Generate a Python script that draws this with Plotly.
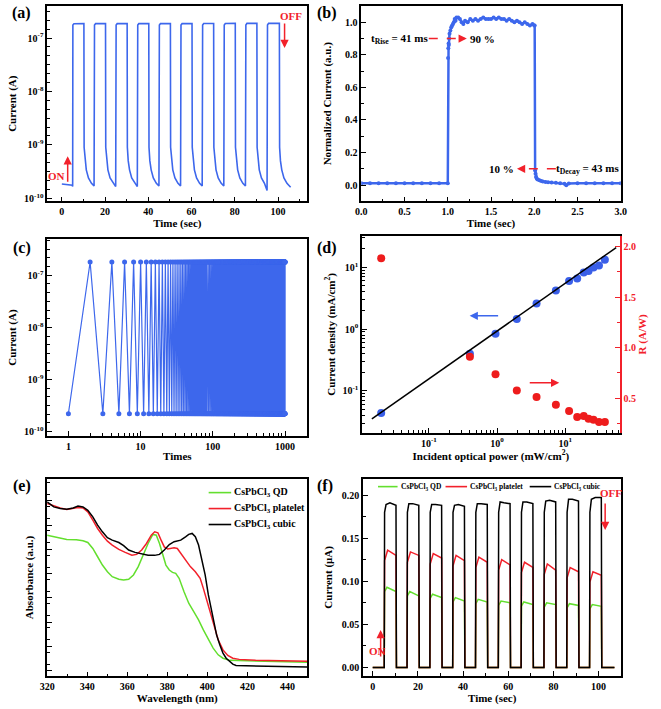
import plotly.graph_objects as go

FONT = "Liberation Serif"
BLUE = "#3d67ec"
RED = "#f2212b"
GREEN = "#63df2e"

# ---------------- (a) on/off switching, log current ----------------
a_time = [
    0.0, 2.5, 4.8, 5.0,
    5.1, 5.6, 10.2, 10.3, 10.7, 11.3, 12.3, 13.7, 14.9,
    15.1, 15.6, 20.2, 20.3, 20.7, 21.3, 22.3, 23.7, 24.9,
    25.1, 25.6, 30.2, 30.3, 30.7, 31.3, 32.3, 33.7, 34.9,
    35.1, 35.6, 40.2, 40.3, 40.7, 41.3, 42.3, 43.7, 44.9,
    45.1, 45.6, 50.2, 50.3, 50.7, 51.3, 52.3, 53.7, 54.9,
    55.1, 55.6, 60.2, 60.3, 60.7, 61.3, 62.3, 63.7, 64.9,
    65.1, 65.6, 70.2, 70.3, 70.7, 71.3, 72.3, 73.7, 74.9,
    75.1, 75.6, 80.2, 80.3, 80.7, 81.3, 82.3, 83.7, 84.9,
    85.1, 85.6, 90.2, 90.3, 90.7, 91.3, 92.3, 93.7, 94.6, 94.9,
    95.1, 95.6, 100.6, 100.7, 101.1, 101.7, 102.7, 104.1, 105.8,
]
a_current = [
    1.85e-10, 1.8e-10, 1.75e-10, 1.65e-10,
    1.75e-7, 1.85e-7, 1.86e-7, 9e-10, 5e-10, 3.4e-10, 2.4e-10, 1.9e-10, 1.7e-10,
    1.75e-7, 1.86e-7, 1.86e-7, 9e-10, 5e-10, 3.4e-10, 2.4e-10, 1.9e-10, 1.65e-10,
    1.75e-7, 1.86e-7, 1.86e-7, 9e-10, 5e-10, 3.4e-10, 2.4e-10, 1.9e-10, 1.65e-10,
    1.75e-7, 1.86e-7, 1.86e-7, 9e-10, 5e-10, 3.4e-10, 2.4e-10, 1.9e-10, 1.7e-10,
    1.75e-7, 1.86e-7, 1.87e-7, 9e-10, 5e-10, 3.4e-10, 2.4e-10, 1.9e-10, 1.7e-10,
    1.75e-7, 1.86e-7, 1.87e-7, 9e-10, 5e-10, 3.4e-10, 2.4e-10, 1.9e-10, 1.7e-10,
    1.75e-7, 1.87e-7, 1.87e-7, 9e-10, 5e-10, 3.4e-10, 2.4e-10, 1.9e-10, 1.7e-10,
    1.75e-7, 1.87e-7, 1.88e-7, 9e-10, 5e-10, 3.4e-10, 2.4e-10, 1.9e-10, 1.7e-10,
    1.75e-7, 1.88e-7, 1.88e-7, 9e-10, 5e-10, 3.4e-10, 2.4e-10, 1.9e-10, 1.5e-10, 1.4e-10,
    1.75e-7, 1.88e-7, 1.88e-7, 9e-10, 5e-10, 3.4e-10, 2.4e-10, 1.9e-10, 1.6e-10,
]

# ---------------- (b) rise / decay ----------------
b_time = [
    0.0, 0.1, 0.2, 0.3, 0.4, 0.5, 0.6, 0.7, 0.8, 0.9,
    1.0, 1.003, 1.006, 1.009, 1.012, 1.016, 1.02, 1.03, 1.04, 1.05,
    1.06, 1.07, 1.08, 1.09, 1.10, 1.12, 1.14, 1.16, 1.18, 1.20,
    1.23, 1.26, 1.29, 1.32, 1.35, 1.38, 1.41, 1.44, 1.47, 1.50,
    1.53, 1.56, 1.59, 1.62, 1.65, 1.68, 1.71, 1.74, 1.77, 1.80,
    1.83, 1.86, 1.89, 1.92, 1.95, 1.98, 2.00, 2.005, 2.01, 2.015,
    2.02, 2.03, 2.04, 2.06, 2.08, 2.10, 2.13, 2.16, 2.20, 2.25,
    2.30, 2.35, 2.37, 2.40, 2.5, 2.6, 2.7, 2.8, 2.9, 3.0,
]
b_norm_current = [
    0.012, 0.011, 0.012, 0.011, 0.012, 0.012, 0.011, 0.012, 0.012, 0.011,
    0.012, 0.78, 0.84, 0.87, 0.86, 0.90, 0.93, 0.95, 0.97, 0.98,
    0.99, 1.00, 1.02, 1.01, 1.03, 1.03, 1.02, 1.00, 0.99, 1.01,
    1.00, 1.02, 1.01, 1.02, 1.01, 1.02, 1.03, 1.02, 1.02, 1.02,
    1.03, 1.02, 1.03, 1.02, 1.02, 1.01, 1.02, 1.01, 1.00, 1.01,
    1.00, 0.99, 1.00, 0.99, 0.98, 0.99, 0.98, 0.98, 0.09, 0.07,
    0.05, 0.04, 0.035, 0.03, 0.025, 0.022, 0.02, 0.018, 0.016, 0.014,
    0.012, 0.008, 0.0, 0.01, 0.012, 0.011, 0.012, 0.011, 0.012, 0.012,
]

# ---------------- (c) 1000 switching cycles ----------------
c_high = 1.8e-7
c_low = 2.2e-10
c_times = list(range(1, 1001))
c_current = [c_low if n % 2 == 1 else c_high for n in c_times]

# ---------------- (d) power dependence ----------------
d_power = [0.02, 0.4, 0.95, 1.95, 3.8, 7.3, 11.4, 15.0, 18.7, 22.0, 26.0, 31.3, 38.2]
d_current_density = [0.044, 0.40, 0.84, 1.45, 2.6, 4.2, 6.0, 6.6, 8.2, 8.7, 9.9, 10.7, 13.2]
d_responsivity = [1.885, 0.91, 0.737, 0.575, 0.51, 0.434, 0.372, 0.312, 0.322, 0.296, 0.287, 0.263, 0.263]
d_fit_power = [0.0146, 56.0]
d_fit_density = [0.0353, 20.8]

# ---------------- (e) absorbance ----------------
e_names = ["CsPbCl<sub>3</sub> QD", "CsPbCl<sub>3</sub> platelet", "CsPbCl<sub>3</sub> cubic"]
e_wl_qd = [320, 324.9, 329.8, 334.6, 337.9, 340.3, 342.8, 345.2, 347.6, 350.1, 352.5, 355.8,
           358.2, 360.7, 363.1, 365.5, 368.0, 370.4, 372.8, 374.5, 376.1, 377.7, 379.3, 381.0,
           382.6, 384.2, 385.9, 388.3, 390.7, 393.2, 395.6, 398.0, 400.5, 402.9, 405.4, 407.8,
           411.1, 417.6, 430.6, 449.8]
e_abs_qd = [0.714, 0.703, 0.692, 0.691, 0.686, 0.677, 0.647, 0.605, 0.563, 0.529, 0.504, 0.491,
            0.487, 0.491, 0.513, 0.555, 0.613, 0.672, 0.718, 0.714, 0.672, 0.613, 0.563, 0.538,
            0.526, 0.521, 0.496, 0.429, 0.370, 0.328, 0.286, 0.235, 0.185, 0.143, 0.109, 0.092,
            0.081, 0.079, 0.076, 0.071]
e_wl_platelet = [320, 323.3, 326.5, 329.8, 333.0, 335.4, 337.9, 340.3, 342.8, 345.2, 347.6, 350.1,
                 352.5, 355.8, 359.0, 362.3, 364.7, 367.2, 369.6, 372.0, 373.7, 375.3, 376.9, 378.5,
                 380.2, 381.8, 383.4, 385.0, 386.7, 389.1, 391.5, 394.0, 396.4, 398.0, 400.5, 402.9,
                 405.4, 407.8, 410.2, 412.7, 415.9, 424.1, 440.3, 449.8]
e_abs_platelet = [0.874, 0.862, 0.852, 0.844, 0.849, 0.854, 0.852, 0.832, 0.790, 0.748, 0.714, 0.684,
                  0.664, 0.642, 0.627, 0.613, 0.617, 0.639, 0.672, 0.714, 0.731, 0.726, 0.689, 0.655,
                  0.644, 0.647, 0.650, 0.647, 0.622, 0.588, 0.555, 0.529, 0.496, 0.445, 0.361, 0.269,
                  0.185, 0.134, 0.106, 0.092, 0.086, 0.081, 0.079, 0.076]
e_wl_cubic = [320, 323.3, 326.5, 329.8, 333.0, 335.4, 337.9, 340.3, 342.8, 345.2, 347.6, 350.1,
              352.5, 355.8, 358.2, 360.7, 363.9, 367.2, 370.4, 373.7, 376.1, 378.5, 381.0, 383.4,
              386.7, 389.1, 390.7, 392.4, 394.0, 395.6, 397.2, 398.9, 400.5, 402.1, 404.6, 406.2,
              407.8, 409.4, 411.1, 412.7, 414.3, 417.6, 427.3, 440.3, 449.8]
e_abs_cubic = [0.882, 0.857, 0.849, 0.845, 0.852, 0.861, 0.857, 0.840, 0.807, 0.765, 0.731, 0.701,
               0.689, 0.677, 0.661, 0.639, 0.627, 0.618, 0.613, 0.612, 0.617, 0.639, 0.667, 0.681,
               0.689, 0.706, 0.718, 0.723, 0.706, 0.664, 0.597, 0.513, 0.412, 0.328, 0.210, 0.160,
               0.118, 0.092, 0.076, 0.062, 0.055, 0.054, 0.052, 0.049, 0.047]

# ---------------- (f) photocurrent of three samples ----------------
f_on = [5.1, 15.2, 25.3, 35.4, 45.5, 55.6, 65.7, 75.8, 85.9, 96.0]
f_off = [10.4, 20.5, 30.6, 40.7, 50.8, 60.9, 71.0, 81.1, 91.2, 101.3]
f_black_start = [0.189, 0.190, 0.189, 0.188, 0.190, 0.192, 0.192, 0.193, 0.195, 0.195]
f_black_mid = [0.191, 0.190, 0.189, 0.189, 0.190, 0.191, 0.192, 0.194, 0.195, 0.197]
f_black_end = [0.188, 0.188, 0.188, 0.187, 0.189, 0.190, 0.190, 0.192, 0.193, 0.197]
f_red_peak = [0.136, 0.134, 0.132, 0.130, 0.128, 0.125, 0.122, 0.120, 0.116, 0.111]
f_red_end = [0.130, 0.130, 0.127, 0.124, 0.122, 0.119, 0.116, 0.113, 0.111, 0.107]
f_green_peak = [0.093, 0.088, 0.085, 0.081, 0.079, 0.077, 0.076, 0.075, 0.074, 0.073]
f_green_end = [0.088, 0.083, 0.081, 0.077, 0.076, 0.075, 0.073, 0.073, 0.072, 0.071]
f_t_start, f_t_end = 0.0, 107.0


def build_cycles(levels):
    xs, ys = [f_t_start], [0.0]
    for k in range(len(f_on)):
        xs.append(f_on[k]); ys.append(0.0)
        for kind, dt, val in levels(k):
            base = f_on[k] if kind == "on" else f_off[k]
            xs.append(base + dt); ys.append(val)
        xs.append(f_off[k] + 0.1); ys.append(0.0)
    xs.append(f_t_end); ys.append(0.0)
    return xs, ys


fb_t, fb_i = build_cycles(lambda k: [("on", 0.15, 0.180), ("on", 0.8, f_black_start[k]),
                                     ("on", 2.5, f_black_mid[k]), ("off", -0.1, f_black_end[k])])
fr_t, fr_i = build_cycles(lambda k: [("on", 0.15, f_red_peak[k] - 0.012), ("on", 1.5, f_red_peak[k]),
                                     ("off", -0.1, f_red_end[k])])
fg_t, fg_i = build_cycles(lambda k: [("on", 0.15, f_green_peak[k] - 0.005), ("on", 1.2, f_green_peak[k]),
                                     ("off", -0.1, f_green_end[k])])

# ================= figure =================
fig = go.Figure()
fig.add_trace(go.Scatter(x=a_time, y=a_current, mode="lines", line=dict(color=BLUE, width=1.6),
                         xaxis="x", yaxis="y", showlegend=False))
fig.add_trace(go.Scatter(x=b_time, y=b_norm_current, mode="lines+markers",
                         line=dict(color=BLUE, width=2.5), marker=dict(color=BLUE, size=4),
                         xaxis="x2", yaxis="y2", showlegend=False))
fig.add_trace(go.Scatter(x=c_times, y=c_current, mode="lines+markers",
                         line=dict(color=BLUE, width=1.2), marker=dict(color=BLUE, size=5),
                         xaxis="x3", yaxis="y3", showlegend=False))
fig.add_trace(go.Scatter(x=d_power, y=d_current_density, mode="markers",
                         marker=dict(color="#3a5fe8", size=8, line=dict(width=0)),
                         xaxis="x4", yaxis="y4", showlegend=False))
fig.add_trace(go.Scatter(x=d_fit_power, y=d_fit_density, mode="lines", line=dict(color="black", width=1.5),
                         xaxis="x4", yaxis="y4", showlegend=False))
fig.add_trace(go.Scatter(x=d_power, y=d_responsivity, mode="markers",
                         marker=dict(color="#ee1c1c", size=8, line=dict(width=0)),
                         xaxis="x4", yaxis="y7", showlegend=False))
E_COLORS = [GREEN, RED, "black"]
for name, xs, ys, col in zip(e_names, [e_wl_qd, e_wl_platelet, e_wl_cubic],
                             [e_abs_qd, e_abs_platelet, e_abs_cubic], E_COLORS):
    fig.add_trace(go.Scatter(x=xs, y=ys, mode="lines", line=dict(color=col, width=1.5), name=name,
                             xaxis="x5", yaxis="y5", showlegend=False))
for name, xs, ys, col in zip(e_names, [fg_t, fr_t, fb_t], [fg_i, fr_i, fb_i], E_COLORS):
    fig.add_trace(go.Scatter(x=xs, y=ys, mode="lines", line=dict(color=col, width=1.5), name=name,
                             xaxis="x6", yaxis="y6", showlegend=False))

TICKFONT = dict(family=FONT, size=10, color="black", weight="bold")


def ttl(text, standoff, color="black"):
    return dict(text=text, standoff=standoff, font=dict(family=FONT, size=11, color=color, weight="bold"))


def axis(domain, anchor, **kw):
    d = dict(domain=domain, anchor=anchor, showline=True, linecolor="black", linewidth=1.5, mirror=True,
             ticks="inside", ticklen=5, tickwidth=1.2, tickcolor="black", showgrid=False, zeroline=False,
             tickfont=TICKFONT)
    d.update(kw)
    return d


def minor_lin(dt):
    return dict(dtick=dt, ticks="inside", ticklen=3, tickwidth=1, tickcolor="black", showgrid=False)


def minor_vals(vals):
    return dict(tickmode="array", tickvals=vals, ticks="inside", ticklen=3, tickwidth=1,
                tickcolor="black", showgrid=False)


def sup_labels(exps):
    return [10.0 ** e for e in exps], ["10<sup>%d</sup>" % e for e in exps]


even_minor = [10 ** (k + j / 6) for k in range(-11, -5) for j in range(1, 6)]
log_minor = lambda lo, hi: [m * 10.0 ** k for k in range(lo, hi) for m in range(2, 10)]

XL = [0.0605, 0.4629]
XR = [0.5461, 0.9470]
ROW1 = [0.7151, 0.9915]

a_tv, a_tt = sup_labels([-10, -9, -8, -7])
c_tv, c_tt = sup_labels([-10, -9, -8, -7])
d_xtv, d_xtt = sup_labels([-2, -1, 0, 1])
d_ytv, d_ytt = sup_labels([-1, 0, 1])

fig.update_layout(
    width=661, height=709, margin=dict(l=0, r=0, t=0, b=0),
    paper_bgcolor="white", plot_bgcolor="white", showlegend=False,
    xaxis=axis(XL, "y", range=[-6.8, 113.6], dtick=20, minor=minor_lin(10), title=ttl("Time (sec)", 0)),
    yaxis=axis(ROW1, "x", type="log", range=[-10.06, -6.40], tickvals=a_tv, ticktext=a_tt,
               minor=minor_vals(even_minor), title=ttl("Current (A)", 5)),
    xaxis2=axis(XR, "y2", range=[0, 3], dtick=0.5, tickformat=".1f", minor=minor_lin(0.25),
                title=ttl("Time (sec)", 2)),
    yaxis2=axis(ROW1, "x2", range=[-0.1, 1.1], tick0=0, dtick=0.2, tickformat=".1f", minor=minor_lin(0.1),
                title=ttl("Normalized Current (a.u.)", 11)),
    xaxis3=axis(XL, "y3", type="log", range=[-0.294, 3.31], tickvals=[1, 10, 100, 1000],
                ticktext=["1", "10", "100", "1000"], minor=minor_vals(log_minor(0, 4)), title=ttl("Times", 2)),
    yaxis3=axis([0.3836, 0.6615], "x3", type="log", range=[-10.08, -6.31], tickvals=c_tv, ticktext=c_tt,
                minor=minor_vals(even_minor), title=ttl("Current (A)", 5)),
    xaxis4=axis([0.5472, 0.9455], "y4", type="log", range=[-1.98, 1.80], tickvals=d_xtv, ticktext=d_xtt,
                minor=minor_vals(log_minor(-2, 2)), title=ttl("Incident optical power (mW/cm<sup>2</sup>)", 2)),
    yaxis4=axis([0.3879, 0.6662], "x4", type="log", range=[-1.677, 1.505], tickvals=d_ytv, ticktext=d_ytt,
                mirror=False, minor=minor_vals(log_minor(-2, 2)),
                title=ttl("Current density (mA/cm<sup>2</sup>)", 5)),
    yaxis7=dict(overlaying="y4", anchor="x4", side="right", range=[0.157, 2.105], dtick=0.5, tick0=0,
                tickformat=".1f", showline=True, linecolor=RED, linewidth=1.5, ticks="inside", ticklen=5,
                tickwidth=1.2, tickcolor=RED, showgrid=False, zeroline=False,
                tickfont=dict(family=FONT, size=10, color=RED, weight="bold"),
                minor=dict(dtick=0.25, ticks="inside", ticklen=3, tickcolor=RED, showgrid=False),
                title=ttl("R (A/W)", 3, RED)),
    xaxis5=axis(XL, "y5", range=[320, 450], dtick=20, minor=minor_lin(10), title=ttl("Wavelength (nm)", 2)),
    yaxis5=axis([0.0433, 0.3230], "x5", range=[0, 1], tick0=0.0286, dtick=0.1227, showticklabels=False,
                minor=minor_lin(0.06135), title=ttl("Absorbance (a.u.)", 10)),
    xaxis6=axis([0.5487, 0.9481], "y6", range=[-4.3, 110.1], dtick=20, minor=minor_lin(10),
                title=ttl("Time (sec)", 2)),
    yaxis6=axis([0.0437, 0.3230], "x6", range=[-0.010, 0.219], tick0=0, dtick=0.05, tickformat=".2f",
                minor=minor_lin(0.025), title=ttl("Current (μA)", 7)),
)

ann = []
shapes = []
LBL = dict(family=FONT, size=16, color="black", weight="bold")
for txt, x, y in [("(a)", 2, 2), ("(b)", 314, 2), ("(c)", 3, 238), ("(d)", 314, 238), ("(e)", 3, 476),
                  ("(f)", 314, 476)]:
    ann.append(dict(text=txt, x=x / 661, y=1 - y / 709, xref="paper", yref="paper", xanchor="left",
                    yanchor="top", showarrow=False, font=LBL))

# legends (e) vertical, (f) horizontal -- sample line + label, positioned in pixels
def legend_entry(x0, x1, xt, y, col, text, size):
    shapes.append(dict(type="line", xref="paper", yref="paper", x0=x0 / 661, x1=x1 / 661,
                       y0=1 - y / 709, y1=1 - y / 709, line=dict(color=col, width=1.6)))
    ann.append(dict(text=text, x=xt / 661, y=1 - y / 709, xref="paper", yref="paper", xanchor="left",
                    yanchor="middle", showarrow=False,
                    font=dict(family=FONT, size=size, color="black", weight="bold")))


for i, (name, col) in enumerate(zip(e_names, E_COLORS)):
    legend_entry(205, 228, 229, 494 + 16 * i, col, name, 10)
for name, col, (x0, x1, xt) in zip(e_names, E_COLORS, [(378, 398, 399), (447, 469, 470), (533, 555, 556)]):
    legend_entry(x0, x1, xt, 488, col, name, 7.5)

RF = dict(family=FONT, size=11, color=RED, weight="bold")
BF = dict(family=FONT, size=11, color="black", weight="bold")
arrow = dict(text="", showarrow=True, arrowhead=2, arrowsize=1.1, arrowwidth=1.5, arrowcolor=RED)
# (a)
ann += [
    dict(text="ON", x=-2.3, y=-9.587, xref="x", yref="y", showarrow=False, font=RF),
    dict(x=2.7, y=-9.213, xref="x", yref="y", ax=0, ay=27, **arrow),
    dict(text="OFF", x=105.9, y=-6.583, xref="x", yref="y", showarrow=False, font=RF),
    dict(x=103.0, y=-7.187, xref="x", yref="y", ax=0, ay=-26, **arrow),
]
# (b)
ann += [
    dict(text="t<sub>Rise</sub> = 41 ms", x=0.44, y=0.9, xref="x2", yref="y2", showarrow=False, font=BF),
    dict(text="90 %", x=1.40, y=0.9, xref="x2", yref="y2", showarrow=False, font=BF),
    dict(x=1.22, y=0.9, xref="x2", yref="y2", ax=1.14, ay=0.9, axref="x2", ayref="y2", **arrow),
    dict(text="10 %", x=1.62, y=0.1, xref="x2", yref="y2", showarrow=False, font=BF),
    dict(text="t<sub>Decay</sub> = 43 ms", x=2.62, y=0.1, xref="x2", yref="y2", showarrow=False, font=BF),
    dict(x=1.80, y=0.1, xref="x2", yref="y2", ax=1.88, ay=0.1, axref="x2", ayref="y2", **arrow),
]
# (d)
ann += [
    dict(x=-0.402, y=0.2145, xref="x4", yref="y4", ax=30, ay=0, text="", showarrow=True, arrowhead=2,
         arrowsize=1.1, arrowwidth=1.5, arrowcolor=BLUE),
    dict(x=0.9125, y=0.651, xref="x4", yref="y7", ax=-31, ay=0, **arrow),
]
# (f)
ann += [
    dict(text="ON", x=1.9, y=0.0189, xref="x6", yref="y6", showarrow=False, font=RF),
    dict(x=3.5, y=0.0436, xref="x6", yref="y6", ax=0, ay=28, **arrow),
    dict(text="OFF", x=105.5, y=0.202, xref="x6", yref="y6", showarrow=False, font=RF),
    dict(x=102.9, y=0.1594, xref="x6", yref="y6", ax=0, ay=-28, **arrow),
]

shapes += [
    dict(type="line", xref="x2", yref="y2", x0=0.78, x1=1.16, y0=0.9, y1=0.9,
         line=dict(color=RED, width=1.5, dash="dash")),
    dict(type="line", xref="x2", yref="y2", x0=2.25, x1=1.86, y0=0.1, y1=0.1,
         line=dict(color=RED, width=1.5, dash="dash")),
]
fig.update_layout(annotations=ann, shapes=shapes)

fig.write_html("out.html")
